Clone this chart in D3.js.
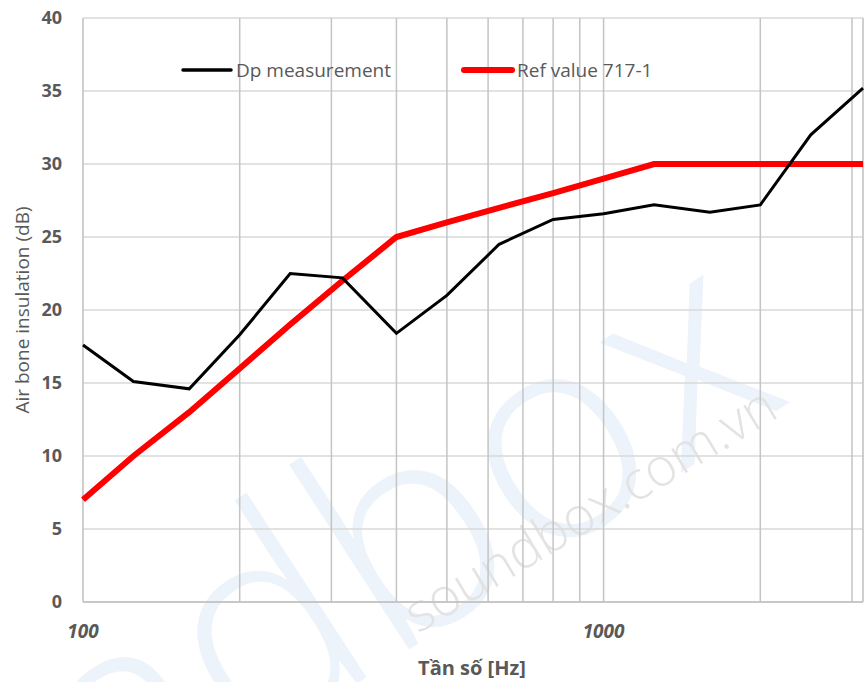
<!DOCTYPE html>
<html>
<head>
<meta charset="utf-8">
<script src="https://cdn.jsdelivr.net/npm/d3@7"></script>
<style>
  body { margin: 0; background: #fff; }
  svg { display: block; font-family: "Open Sans", "Liberation Sans", sans-serif; }
</style>
</head>
<body>
<div id="chart"></div>
<script>
// ---- data (1/3 octave bands)
var freqs = [100, 125, 160, 200, 250, 315, 400, 500, 630, 800, 1000, 1250, 1600, 2000, 2500, 3150];
var measured = [17.6, 15.1, 14.6, 18.3, 22.5, 22.2, 18.4, 21.0, 24.5, 26.2, 26.6, 27.2, 26.7, 27.2, 32.0, 35.2];
var refValues = [7, 10, 13, 16, 19, 22, 25, 26, 27, 28, 29, 30, 30, 30, 30, 30];
var seriesNames = ["Dp measurement", "Ref value 717-1"];
var yTicks = [0, 5, 10, 15, 20, 25, 30, 35, 40];
var xLabels = [100, 1000];
var xGrid = [200, 300, 400, 500, 600, 700, 800, 900, 1000, 2000, 3000];

var width = 866, height = 682;
var margin = {left: 83, right: 3, top: 18, bottom: 80};

var svg = d3.select("#chart").append("svg")
  .attr("width", width)
  .attr("height", height);

// watermark behind everything
var wm = svg.append("g");
wm.append("text")
  .attr("transform", "translate(-300,1110) rotate(-33)")
  .style("font-family", "'Open Sans', sans-serif")
  .style("font-weight", "300")
  .style("font-size", "290px")
  .style("fill", "#ecf3fa")
  .text("soundbox");
wm.append("text")
  .attr("transform", "translate(418,634) rotate(-31)")
  .style("font-family", "'Open Sans', sans-serif")
  .style("font-weight", "300")
  .style("font-size", "53px")
  .style("fill", "#e3e3e3")
  .text("soundbox.com.vn");

var x = d3.scaleLog()
  .domain([100, 3150])
  .range([margin.left, width - margin.right]);
var y = d3.scaleLinear()
  .domain([0, 40])
  .range([height - margin.bottom, margin.top]);

// horizontal grid
svg.append("g").selectAll("line")
  .data(yTicks)
  .enter().append("line")
  .attr("x1", x(100)).attr("x2", x(3150))
  .attr("y1", d => y(d)).attr("y2", d => y(d))
  .attr("stroke", "#d9d9d9")
  .attr("stroke-width", 1.5);

// vertical grid (log minor)
svg.append("g").selectAll("line")
  .data(xGrid)
  .enter().append("line")
  .attr("x1", d => x(d)).attr("x2", d => x(d))
  .attr("y1", y(0)).attr("y2", y(40))
  .attr("stroke", "#c4c4c4")
  .attr("stroke-width", 1.5);

// axis border lines
svg.append("line")
  .attr("x1", x(100)).attr("x2", x(100))
  .attr("y1", y(0)).attr("y2", y(40))
  .attr("stroke", "#bfbfbf").attr("stroke-width", 1.5);
svg.append("line")
  .attr("x1", x(3150)).attr("x2", x(3150))
  .attr("y1", y(0)).attr("y2", y(40))
  .attr("stroke", "#bfbfbf").attr("stroke-width", 1.5);
svg.append("line")
  .attr("x1", x(100)).attr("x2", x(3150))
  .attr("y1", y(0)).attr("y2", y(0))
  .attr("stroke", "#bfbfbf").attr("stroke-width", 1.5);

// y tick labels
svg.append("g").selectAll("text")
  .data(yTicks)
  .enter().append("text")
  .attr("x", 62)
  .attr("y", d => y(d) + 6)
  .attr("text-anchor", "end")
  .style("font-size", "18px")
  .style("font-weight", "bold")
  .style("fill", "#595959")
  .text(d => d);

// x tick labels
svg.append("g").selectAll("text")
  .data(xLabels)
  .enter().append("text")
  .attr("x", d => x(d))
  .attr("y", 638)
  .attr("text-anchor", "middle")
  .style("font-size", "19px")
  .style("font-weight", "bold")
  .style("font-style", "italic")
  .style("fill", "#595959")
  .text(d => d);

// axis titles
svg.append("text")
  .attr("transform", `translate(29,${(y(0) + y(40)) / 2}) rotate(-90)`)
  .attr("text-anchor", "middle")
  .style("font-size", "19px")
  .style("fill", "#595959")
  .text("Air bone insulation (dB)");
svg.append("text")
  .attr("x", 472)
  .attr("y", 675)
  .attr("text-anchor", "middle")
  .style("font-size", "20px")
  .style("font-weight", "bold")
  .style("fill", "#595959")
  .text("Tần số [Hz]");

// lines
var line = d3.line()
  .x((d, i) => x(freqs[i]))
  .y(d => y(d));

svg.append("path")
  .datum(refValues)
  .attr("d", line)
  .attr("fill", "none")
  .attr("stroke", "#ff0000")
  .attr("stroke-width", 6);

svg.append("path")
  .datum(measured)
  .attr("d", line)
  .attr("fill", "none")
  .attr("stroke", "#000")
  .attr("stroke-width", 3);

// legend
var legendItems = [
  {name: seriesNames[0], color: "#000", w: 3.5, x0: 183},
  {name: seriesNames[1], color: "#ff0000", w: 6, x0: 464}
];
var legend = svg.append("g").selectAll("g")
  .data(legendItems)
  .enter().append("g")
  .attr("transform", d => `translate(${d.x0},70)`);
legend.append("line")
  .attr("x1", 0).attr("x2", 48)
  .attr("stroke", d => d.color)
  .attr("stroke-width", d => d.w)
  .attr("stroke-linecap", "round");
legend.append("text")
  .attr("x", 53)
  .attr("y", 7)
  .style("font-size", "19px")
  .style("fill", "#595959")
  .text(d => d.name);
</script>
</body>
</html>
